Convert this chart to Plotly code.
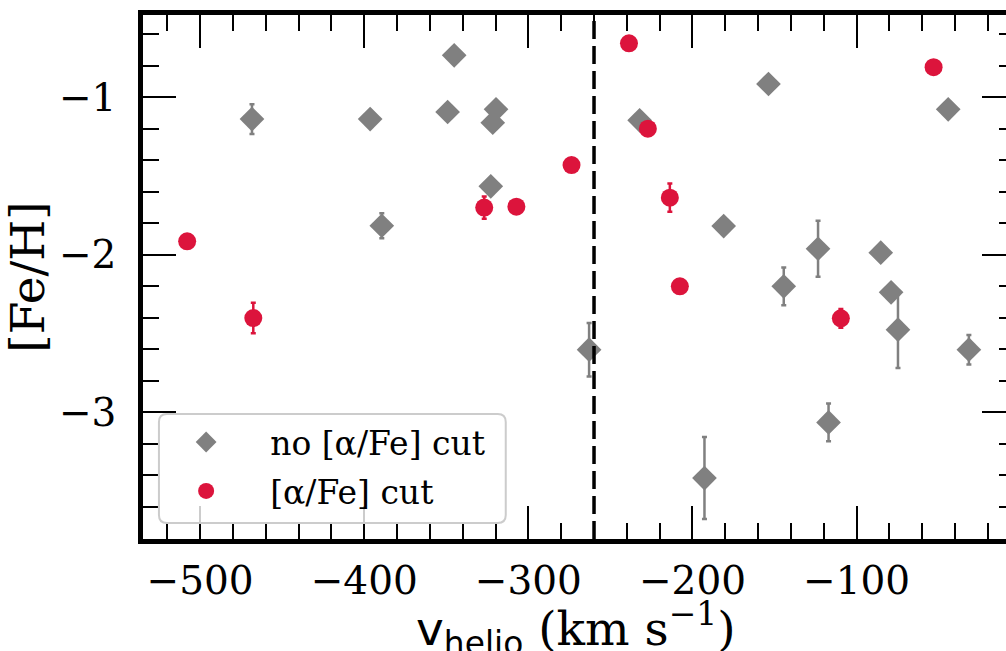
import plotly.graph_objects as go

# ---- data ----
v_nocut = [-468.4, -396.4, -345.2, -349.2, -319.7, -321.7, -322.9, -389.3, -263.0,
           -232.2, -153.7, -44.2, -181.0, -123.5, -85.3, -144.4, -79.0, -74.8,
           -31.6, -117.1, -192.7]
feh_nocut = [-1.140, -1.140, -0.735, -1.095, -1.078, -1.163, -1.567, -1.817, -2.604,
             -1.148, -0.917, -1.078, -1.819, -1.963, -1.988, -2.202, -2.240, -2.477,
             -2.604, -3.066, -3.419]
err_nocut = [0.095, 0.04, 0.04, 0.04, 0.04, 0.04, 0.04, 0.08, 0.17,
             0.04, 0.04, 0.04, 0.04, 0.178, 0.04, 0.12, 0.04, 0.244,
             0.094, 0.12, 0.26]

v_cut = [-507.9, -326.9, -307.3, -273.7, -467.6, -238.7, -227.2, -213.8, -207.7,
         -53.1, -109.6]
feh_cut = [-1.916, -1.702, -1.696, -1.432, -2.403, -0.659, -1.201, -1.639, -2.202,
           -0.810, -2.405]
err_cut = [0.03, 0.07, 0.03, 0.03, 0.097, 0.03, 0.03, 0.09, 0.03, 0.03, 0.06]

v_line = -260
x_range = [-534.8, -3.5]
y_range = [-3.806, -0.479]
x_tick_vals = [-500, -400, -300, -200, -100]
x_tick_text = ["\u2212500", "\u2212400", "\u2212300", "\u2212200", "\u2212100"]
y_tick_vals = [-3, -2, -1]
y_tick_text = ["\u22123", "\u22122", "\u22121"]
x_title = '<span style="font-family:DejaVu Sans">v<sub>helio</sub></span> (km s<sup>\u22121</sup>)'
y_title = "[Fe/H]"

GRAY = "#808080"
RED = "#DC143C"
FONT = "DejaVu Serif"

W, H = 1040, 680
L, T, R_EDGE, B_EDGE = 140, 15, 1015, 539

fig = go.Figure()
fig.add_trace(go.Scatter(
    x=v_nocut, y=feh_nocut, mode="markers", name="no [\u03b1/Fe] cut",
    legendgroup="a",
    marker=dict(symbol="diamond", size=19, color=GRAY, line=dict(width=0)),
    error_y=dict(type="data", array=err_nocut, color=GRAY, thickness=2.5, width=2.5),
))
fig.add_trace(go.Scatter(
    x=v_cut, y=feh_cut, mode="markers", name="[\u03b1/Fe] cut",
    legendgroup="b",
    marker=dict(symbol="circle", size=18, color=RED, line=dict(width=0)),
    error_y=dict(type="data", array=err_cut, color=RED, thickness=2.5, width=2.5),
))

fig.add_vline(x=v_line, line=dict(color="black", width=3.5, dash="18px,7px"))

common = dict(showgrid=False, zeroline=False, ticks="inside", tickwidth=2,
              tickcolor="black", showline=True, linecolor="black", linewidth=4.5)

fig.update_layout(
    width=W, height=H,
    margin=dict(l=L, t=T, r=W - R_EDGE, b=H - B_EDGE, pad=0),
    plot_bgcolor="white", paper_bgcolor="white",
    font=dict(family=FONT, color="black", size=39),
    xaxis=dict(range=x_range, tickvals=x_tick_vals, ticktext=x_tick_text,
               ticklen=33, ticklabelstandoff=3,
               minor=dict(ticks="inside", ticklen=16, dtick=20, tickwidth=2, tickcolor="black"),
               tickfont=dict(size=39, family=FONT), **common),
    yaxis=dict(range=y_range, tickvals=y_tick_vals, ticktext=y_tick_text,
               ticklen=33, ticklabelstandoff=14,
               minor=dict(ticks="inside", ticklen=16, dtick=0.2, tickwidth=2, tickcolor="black"),
               title=dict(text=y_title, font=dict(size=47, family=FONT), standoff=14),
               tickfont=dict(size=39, family=FONT), **common),
    xaxis2=dict(range=x_range, overlaying="x", side="top", showticklabels=False,
                tickvals=x_tick_vals, ticklen=33,
                minor=dict(ticks="inside", ticklen=16, dtick=20, tickwidth=2, tickcolor="black"),
                showgrid=False, zeroline=False, ticks="inside", tickwidth=2,
                tickcolor="black", showline=True, linecolor="black", linewidth=4.5),
    yaxis2=dict(range=y_range, overlaying="y", side="right", showticklabels=False,
                tickvals=y_tick_vals, ticklen=33,
                minor=dict(ticks="inside", ticklen=16, dtick=0.2, tickwidth=2, tickcolor="black"),
                showgrid=False, zeroline=False, ticks="inside", tickwidth=2,
                tickcolor="black", showline=True, linecolor="black", linewidth=4.5),
    showlegend=True,
    legend=dict(x=-0.001, y=0.2385, xanchor="left", yanchor="top",
                bgcolor="rgba(0,0,0,0)", borderwidth=0,
                font=dict(size=33, family=FONT), itemwidth=118,
                tracegroupgap=3, traceorder="grouped"),
)

# x-axis title as an annotation for precise placement
fig.add_annotation(text=x_title, xref="paper", yref="paper", x=0.5,
                   y=(B_EDGE - 628) / (B_EDGE - T), xanchor="center", yanchor="middle",
                   xshift=-3, showarrow=False,
                   font=dict(size=47, family=FONT, color="black"))

# invisible helper trace so the top/right tick axes are drawn
fig.add_trace(go.Scatter(x=[x_range[0]], y=[y_range[0]], xaxis="x2", yaxis="y2",
                         mode="markers", marker=dict(opacity=0), showlegend=False,
                         hoverinfo="skip"))

# rounded legend frame (paper coordinates)
def px2paper_x(px):
    return (px - L) / (R_EDGE - L)

def px2paper_y(py):
    return (B_EDGE - py) / (B_EDGE - T)

x0, x1 = px2paper_x(156), px2paper_x(504)
y0, y1 = px2paper_y(523), px2paper_y(414)
rx = 8 / (R_EDGE - L)
ry = 8 / (B_EDGE - T)
path = (f"M {x0+rx},{y0} L {x1-rx},{y0} Q {x1},{y0} {x1},{y0+ry} "
        f"L {x1},{y1-ry} Q {x1},{y1} {x1-rx},{y1} L {x0+rx},{y1} "
        f"Q {x0},{y1} {x0},{y1-ry} L {x0},{y0+ry} Q {x0},{y0} {x0+rx},{y0} Z")
fig.add_shape(type="path", path=path, xref="paper", yref="paper",
              fillcolor="rgba(255,255,255,0.8)", line=dict(color="#cccccc", width=2),
              layer="above")

fig.write_html("out.html", config={"displayModeBar": False},
               post_script="document.body.style.margin='0';document.body.style.overflow='hidden';document.documentElement.style.overflow='hidden';")
